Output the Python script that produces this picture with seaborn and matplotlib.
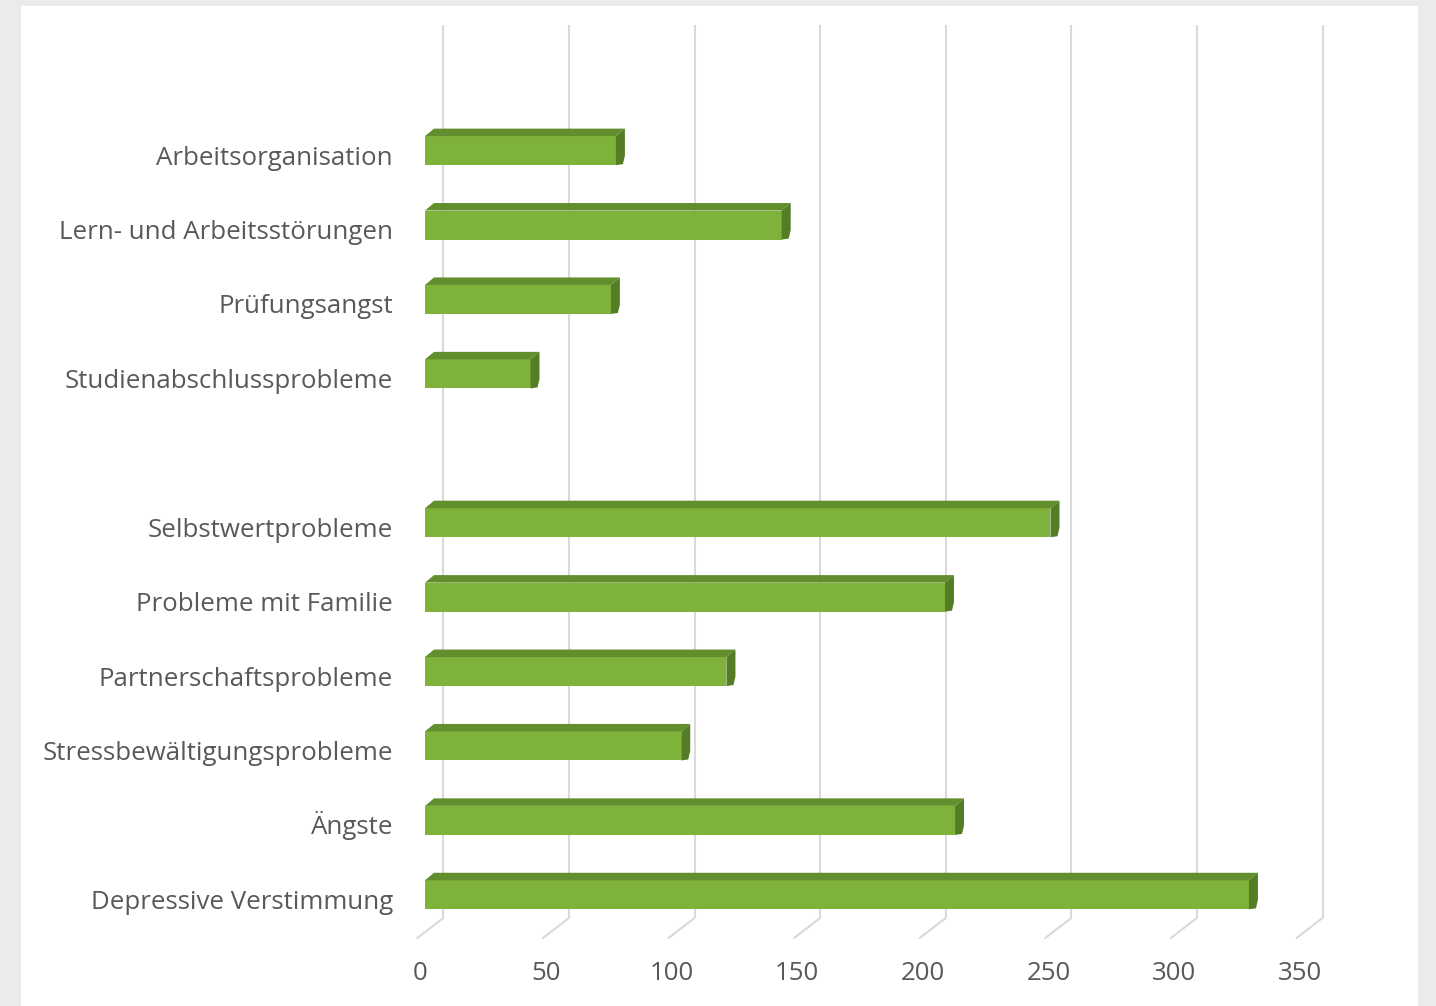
import numpy as np
import pandas as pd
import matplotlib
matplotlib.use("Agg")
import matplotlib.pyplot as plt
import seaborn as sns
from matplotlib.patches import Polygon, Rectangle
from matplotlib.transforms import ScaledTranslation

# ---------------- data ----------------
categories = ["Arbeitsorganisation", "Lern- und Arbeitsstörungen", "Prüfungsangst",
              "Studienabschlussprobleme", "Selbstwertprobleme", "Probleme mit Familie",
              "Partnerschaftsprobleme", "Stressbewältigungsprobleme", "Ängste",
              "Depressive Verstimmung"]
values = [76, 142, 74, 42, 249, 207, 120, 102, 211, 328]
# category slots (two empty slots: one on top, one as separator)
slot_order = [" "] + categories[:4] + ["  "] + categories[4:]
xticks = [0, 50, 100, 150, 200, 250, 300, 350]

# ---------------- style ----------------
sns.set_style("white")
plt.rcParams["font.family"] = ["Open Sans", "DejaVu Sans"]

FRONT = "#7fb23a"
TOP = "#638e2e"
SIDE = "#547d25"
GRID = "#d9d9d9"
TXT = "#595959"

W, H = 1436, 1006
fig = plt.figure(figsize=(W / 100, H / 100), dpi=100, facecolor="#ebebeb")
fig.add_artist(Rectangle((21 / W, 0), (1418 - 21) / W, (H - 6) / H,
                         transform=fig.transFigure, facecolor="white",
                         edgecolor="none", zorder=0))

ax_w_px, ax_h_px = 879.2, 893.0
ax = fig.add_axes([425 / W, (H - 932) / H, ax_w_px / W, ax_h_px / H])
ax.set_facecolor("none")

df = pd.DataFrame({"cat": categories, "val": values})
sns.barplot(data=df, x="val", y="cat", order=slot_order, orient="h",
            width=0.39, color=FRONT, saturation=1, edgecolor="none",
            linewidth=0, ax=ax, zorder=3)

xmax = 350
ax.set_xlim(0, xmax)
ax.set_ylim(len(slot_order) - 0.5, -0.5)

sx = ax_w_px / xmax
sy = ax_h_px / len(slot_order)
def dx(px):
    return px / sx
def dy(px):
    return px / sy

# back wall offset (right & up)
bx, by = dx(18.3), dy(14)
ybot = len(slot_order) - 0.5
for v in xticks:
    ax.plot([v + bx, v + bx], [-0.5 - by, ybot - by], color=GRID, lw=1.5,
            zorder=0.5, clip_on=False, solid_capstyle="butt")
    ax.plot([v + bx, v + bx - dx(26)], [ybot - by, ybot - by + dy(20)],
            color=GRID, lw=1.5, zorder=0.5, clip_on=False)

# 3D faces of bars
ddx, ddy = dx(9), dy(7.5)
for p in list(ax.patches):
    w = p.get_width()
    if not np.isfinite(w) or w <= 0:
        continue
    x0 = p.get_x()
    x1 = x0 + w
    yt = p.get_y()
    yb = yt + p.get_height()
    top = Polygon([(x0, yt), (x1, yt), (x1 + ddx, yt - ddy), (x0 + ddx, yt - ddy)],
                  closed=True, facecolor=TOP, edgecolor="none", zorder=3,
                  clip_on=False)
    side = Polygon([(x1, yt), (x1 + ddx, yt - ddy), (x1 + ddx, yb - ddy - dy(2)),
                    (x1 + ddx - dx(2), yb - dy(1)), (x1, yb)],
                   closed=True, facecolor=SIDE, edgecolor="none", zorder=3,
                   clip_on=False)
    ax.add_patch(top)
    ax.add_patch(side)

# category labels
lab_tr = ax.transData + ScaledTranslation(-32 / 100, -14 / 100, fig.dpi_scale_trans)
for i, cat in enumerate(slot_order):
    if cat.strip():
        ax.text(0, i, cat, transform=lab_tr, ha="right", va="baseline",
                fontsize=18.6, color=TXT)

ax.set_yticks([])
ax.set_ylabel("")
ax.set_xlabel("")
ax.set_xticks(xticks)
ax.set_xticklabels([str(t) for t in xticks])
ax.tick_params(axis="x", length=0, pad=21, labelsize=18.6, labelcolor=TXT)
shift = ScaledTranslation(-4.5 / 100, 0, fig.dpi_scale_trans)
for lbl in ax.get_xticklabels():
    lbl.set_transform(lbl.get_transform() + shift)
for s in ax.spines.values():
    s.set_visible(False)
ax.grid(False)

fig.savefig("out.png", dpi=100, facecolor=fig.get_facecolor())
